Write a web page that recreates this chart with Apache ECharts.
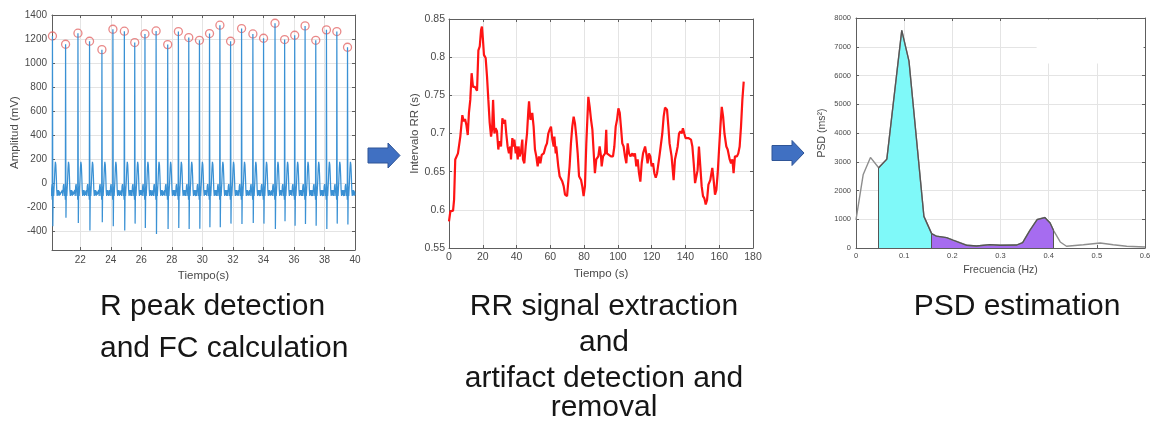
<!DOCTYPE html>
<html>
<head>
<meta charset="utf-8">
<script src="https://cdn.jsdelivr.net/npm/echarts@6/dist/echarts.min.js"></script>
<style>
  html, body { margin: 0; padding: 0; background: #fff; }
  #chart { width: 1155px; height: 431px; }
</style>
</head>
<body>
<div id="chart"></div>
<script>
// ---------- ECG: R peaks (s, mV) and S-wave depths ----------
const rPeakTimes = [20.18, 21.04, 21.85, 22.61, 23.42, 24.14, 24.89, 25.57, 26.24, 26.97,
                    27.73, 28.43, 29.11, 29.81, 30.47, 31.15, 31.85, 32.57, 33.31, 34.01,
                    34.76, 35.39, 36.05, 36.73, 37.43, 38.13, 38.81, 39.51];
const rPeakAmps = [1225, 1156, 1248, 1181, 1111, 1281, 1265, 1170, 1242, 1267,
                   1153, 1262, 1212, 1189, 1245, 1315, 1181, 1287, 1242, 1206,
                   1331, 1195, 1231, 1309, 1189, 1276, 1262, 1131];
const sWaveAmps = [-362, -292, -334, -398, -329, -362, -398, -340, -376, -426,
                   -384, -376, -384, -382, -370, -370, -340, -343, -334, -340,
                   -384, -320, -357, -343, -357, -384, -340, -348];
// beat shape around each R peak (offset in s, amplitude in mV)
const beatPreOffsets = [-0.24, -0.21, -0.18, -0.15, -0.12, -0.09, -0.06, -0.035, -0.015];
const beatPreValues  = [-100, -60, -110, -30, -10, -60, -110, -70, -140];
const sWaveOffset = 0.025;
const beatPostOffsets = [0.05, 0.08, 0.10, 0.13, 0.16, 0.19, 0.22, 0.25, 0.28, 0.31, 0.34, 0.37, 0.40, 0.43, 0.46, 0.49];
const beatPostValues  = [-30, -110, -60, 20, 120, 175, 150, 60, -60, -110, -60, -100, -60, -110, -70, -100];
const ecgEnd = 40.2;

// ---------- RR interval series ----------
const rrTimes = [0, 0.8, 2.4, 3.0, 3.7, 5.3, 6.7, 7.5, 7.9, 8.7,
  9.5, 10.3, 11.1, 11.8, 12.6, 13.4, 14.2, 15.4, 16.6, 17.4,
  18.2, 19.0, 19.5, 20.1, 20.7, 21.7, 22.5, 23.3, 24.1, 24.9,
  25.5, 26.1, 26.9, 27.6, 28.4, 29.2, 29.8, 30.8, 31.6, 32.4,
  33.2, 33.9, 34.7, 35.5, 36.3, 36.7, 37.5, 38.3, 38.7, 39.5,
  39.9, 40.7, 41.2, 41.8, 42.6, 43.4, 43.8, 44.6, 45.4, 46.2,
  47.0, 47.4, 48.2, 48.9, 49.3, 50.1, 50.9, 51.7, 52.5, 53.3,
  54.1, 54.9, 56.1, 57.2, 58.0, 58.8, 59.6, 60.4, 61.2, 62.0,
  62.4, 63.2, 63.5, 64.7, 65.5, 67.1, 67.9, 68.7, 69.9, 70.7,
  71.4, 72.2, 73.0, 73.8, 74.6, 75.4, 76.2, 77.0, 78.2, 78.9,
  79.7, 80.5, 81.3, 82.5, 83.3, 84.1, 84.9, 85.7, 86.4, 87.2,
  88.4, 89.2, 90.0, 90.4, 91.2, 92.4, 93.1, 93.5, 94.3, 95.9,
  97.1, 97.9, 98.7, 99.5, 100.3, 101.1, 101.8, 102.6, 103.4, 104.2,
  105.0, 105.8, 106.6, 107.4, 108.6, 109.3, 110.1, 110.9, 111.7, 112.5,
  113.3, 114.1, 114.9, 116.1, 116.8, 117.6, 118.4, 119.2, 120.0, 120.8,
  121.6, 122.4, 123.2, 123.9, 124.7, 125.5, 126.3, 127.1, 127.9, 129.1,
  129.9, 130.6, 131.8, 133.0, 133.8, 134.6, 135.4, 136.2, 137.0, 137.8,
  138.5, 139.3, 140.1, 140.9, 141.7, 142.5, 143.3, 144.1, 144.9, 145.7,
  146.5, 147.2, 148.0, 148.8, 149.6, 150.4, 151.2, 152.0, 152.8, 153.6,
  154.7, 155.9, 156.7, 157.5, 158.3, 159.1, 159.9, 160.7, 161.5, 162.3,
  163.1, 164.2, 165.0, 166.2, 167.0, 167.8, 168.5, 169.3, 170.5, 171.3,
  172.1, 172.9, 173.7, 174.5];
const rrValues = [0.585, 0.598, 0.599, 0.613, 0.666, 0.674, 0.696, 0.698, 0.724, 0.716,
  0.719, 0.711, 0.698, 0.727, 0.744, 0.779, 0.761, 0.761, 0.756, 0.809,
  0.814, 0.836, 0.840, 0.823, 0.803, 0.799, 0.775, 0.744, 0.714, 0.696,
  0.705, 0.744, 0.700, 0.707, 0.703, 0.679, 0.690, 0.683, 0.720, 0.713,
  0.718, 0.700, 0.683, 0.674, 0.683, 0.666, 0.694, 0.683, 0.692, 0.674,
  0.683, 0.666, 0.683, 0.670, 0.676, 0.692, 0.666, 0.661, 0.683, 0.700,
  0.731, 0.742, 0.718, 0.722, 0.727, 0.709, 0.679, 0.670, 0.657, 0.670,
  0.661, 0.672, 0.674, 0.683, 0.687, 0.700, 0.705, 0.709, 0.692, 0.683,
  0.696, 0.674, 0.683, 0.657, 0.644, 0.637, 0.631, 0.620, 0.618, 0.618,
  0.657, 0.687, 0.709, 0.722, 0.713, 0.696, 0.674, 0.644, 0.639, 0.631,
  0.618, 0.631, 0.687, 0.748, 0.735, 0.718, 0.705, 0.674, 0.648, 0.666,
  0.670, 0.683, 0.670, 0.657, 0.670, 0.674, 0.705, 0.674, 0.674, 0.670,
  0.670, 0.683, 0.709, 0.718, 0.733, 0.727, 0.709, 0.687, 0.683, 0.670,
  0.661, 0.687, 0.674, 0.670, 0.674, 0.670, 0.674, 0.657, 0.666, 0.648,
  0.637, 0.661, 0.674, 0.683, 0.674, 0.661, 0.674, 0.670, 0.657, 0.661,
  0.648, 0.642, 0.648, 0.648, 0.672, 0.674, 0.700, 0.722, 0.734, 0.731,
  0.709, 0.687, 0.670, 0.639, 0.666, 0.674, 0.683, 0.700, 0.703, 0.700,
  0.707, 0.700, 0.694, 0.696, 0.694, 0.696, 0.692, 0.683, 0.661, 0.635,
  0.635, 0.652, 0.683, 0.657, 0.631, 0.618, 0.615, 0.607, 0.613, 0.633,
  0.639, 0.655, 0.639, 0.620, 0.626, 0.648, 0.679, 0.709, 0.735, 0.722,
  0.700, 0.683, 0.679, 0.666, 0.661, 0.666, 0.648, 0.670, 0.670, 0.674,
  0.683, 0.709, 0.744, 0.768];

// ---------- Power spectral density ----------
const psdFreq   = [0, 0.015, 0.030, 0.047, 0.064, 0.095, 0.110, 0.141, 0.157, 0.167,
                   0.188, 0.202, 0.230, 0.250, 0.278, 0.299, 0.334, 0.346, 0.361, 0.376,
                   0.392, 0.403, 0.410, 0.424, 0.437, 0.472, 0.507, 0.534, 0.562, 0.600];
const psdValues = [980, 2560, 3150, 2790, 3090, 7570, 6500, 1100, 500, 410,
                   360, 270, 95, 70, 115, 95, 105, 185, 615, 990,
                   1060, 870, 615, 210, 60, 115, 175, 115, 60, 35];
const lfBand = [0.047, 0.157];
const hfBand = [0.157, 0.410];

// ---------- Captions ----------
const captionLeft   = ['R peak detection', 'and FC calculation'];
const captionMiddle = ['RR signal extraction', 'and', 'artifact detection and', 'removal'];
const captionRight  = ['PSD estimation'];

// ---------- build series data ----------
const ecgPoints = [];
rPeakTimes.forEach((tR, i) => {
  beatPreOffsets.forEach((o, k) => ecgPoints.push([tR + o, beatPreValues[k]]));
  ecgPoints.push([tR, rPeakAmps[i]]);
  ecgPoints.push([tR + sWaveOffset, sWaveAmps[i]]);
  const limit = i + 1 < rPeakTimes.length ? rPeakTimes[i + 1] + beatPreOffsets[0] : ecgEnd;
  beatPostOffsets.forEach((o, k) => {
    if (tR + o < limit) ecgPoints.push([tR + o, beatPostValues[k]]);
  });
});
const peakPoints = rPeakTimes.map((t, i) => [t, rPeakAmps[i]]);
const rrPoints = rrTimes.map((t, i) => [t, rrValues[i]]);
const psdPoints = psdFreq.map((f, i) => [f, psdValues[i]]);
const bandPoints = band => psdPoints.filter(p => p[0] >= band[0] - 1e-9 && p[0] <= band[1] + 1e-9);
const edgeLine = f => {
  const p = psdPoints.find(q => Math.abs(q[0] - f) < 1e-9);
  return [{ coord: [p[0], 0] }, { coord: [p[0], p[1]] }];
};

// ---------- styling helpers ----------
const FONT = '"Liberation Sans", Arial, sans-serif';
const FRAME = '#5e5e5e';
const GRIDC = '#e4e4e4';
const TXT = '#4a4a4a';
const plain = v => String(v);

function xAxes(gi, range, opt) {
  const base = {
    type: 'value', gridIndex: gi, min: range[0], max: range[1],
    axisLine: { show: true, onZero: false, lineStyle: { color: FRAME, width: 1 } },
    axisTick: { show: true, inside: true, length: 3, lineStyle: { color: FRAME } }
  };
  if (opt.interval !== undefined) base.interval = opt.interval; else base.splitNumber = opt.splitNumber;
  return [
    Object.assign({}, base, {
      position: 'bottom',
      name: opt.name, nameLocation: 'middle', nameGap: opt.nameGap,
      nameTextStyle: { fontFamily: FONT, fontSize: opt.nameSize, color: TXT },
      axisLabel: { fontFamily: FONT, fontSize: opt.labelSize, color: TXT, margin: opt.margin,
                   showMinLabel: opt.showMinLabel !== false, formatter: plain },
      splitLine: { show: true, lineStyle: { color: GRIDC, width: 1 } }
    }),
    Object.assign({}, base, {
      position: 'top', axisLabel: { show: false }, splitLine: { show: false }
    })
  ];
}
function yAxes(gi, range, opt) {
  const base = {
    type: 'value', gridIndex: gi, min: range[0], max: range[1],
    axisLine: { show: true, onZero: false, lineStyle: { color: FRAME, width: 1 } },
    axisTick: { show: true, inside: true, length: 3, lineStyle: { color: FRAME } }
  };
  if (opt.interval !== undefined) base.interval = opt.interval; else base.splitNumber = opt.splitNumber;
  return [
    Object.assign({}, base, {
      position: 'left',
      name: opt.name, nameLocation: 'middle', nameGap: opt.nameGap,
      nameTextStyle: { fontFamily: FONT, fontSize: opt.nameSize, color: TXT },
      axisLabel: { fontFamily: FONT, fontSize: opt.labelSize, color: TXT, margin: opt.margin,
                   showMinLabel: opt.showMinLabel !== false, formatter: plain },
      splitLine: { show: true, lineStyle: { color: GRIDC, width: 1 } }
    }),
    Object.assign({}, base, {
      position: 'right', axisLabel: { show: false }, splitLine: { show: false }
    })
  ];
}

function captionText(x, y, text, align) {
  return {
    type: 'text', x: x, y: y, silent: true,
    style: { text: text, font: '30px ' + FONT, fill: '#161616',
             textAlign: align, textVerticalAlign: 'middle' }
  };
}
function arrow(x0, cy) {
  const pts = [[x0, cy - 7.5], [x0 + 20, cy - 7.5], [x0 + 20, cy - 12.5], [x0 + 32, cy],
               [x0 + 20, cy + 12.5], [x0 + 20, cy + 7.5], [x0, cy + 7.5]];
  return { type: 'polygon', silent: true, shape: { points: pts },
           style: { fill: '#4070c2', stroke: '#2f5597', lineWidth: 1 } };
}

const graphics = [];
captionLeft.forEach((t, i) => graphics.push(captionText(100, [307, 349][i], t, 'left')));
captionMiddle.forEach((t, i) => graphics.push(captionText(604, [307, 343, 379, 408][i], t, 'center')));
captionRight.forEach((t) => graphics.push(captionText(1017, 307, t, 'center')));
graphics.push(arrow(368, 155.5));
graphics.push(arrow(772, 153));

const option = {
  animation: false,
  backgroundColor: '#ffffff',
  grid: [
    { left: 52, top: 15, width: 303, height: 235 },
    { left: 449, top: 19, width: 304, height: 229 },
    { left: 856, top: 18, width: 289, height: 230 }
  ],
  xAxis: [].concat(
    xAxes(0, [20.15, 40], { splitNumber: 10, name: 'Tiempo(s)', nameGap: 15, nameSize: 11.5,
                            labelSize: 10, margin: 5, showMinLabel: false }),
    xAxes(1, [0, 180], { interval: 20, name: 'Tiempo (s)', nameGap: 17, nameSize: 11.5,
                         labelSize: 10.5, margin: 4 }),
    xAxes(2, [0, 0.6], { interval: 0.1, name: 'Frecuencia (Hz)', nameGap: 15, nameSize: 10.5,
                         labelSize: 7.5, margin: 4 })
  ),
  yAxis: [].concat(
    yAxes(0, [-560, 1400], { splitNumber: 10, name: 'Amplitud (mV)', nameGap: 31, nameSize: 11.5,
                             labelSize: 10, margin: 5, showMinLabel: false }),
    yAxes(1, [0.55, 0.85], { interval: 0.05, name: 'Intervalo RR (s)', nameGap: 28, nameSize: 11.5,
                             labelSize: 10.5, margin: 4 }),
    yAxes(2, [0, 8000], { interval: 1000, name: 'PSD (ms²)', nameGap: 28, nameSize: 10.5,
                          labelSize: 7.5, margin: 5 })
  ),
  series: [
    {
      name: 'ECG', type: 'line', xAxisIndex: 0, yAxisIndex: 0, data: ecgPoints,
      showSymbol: false, symbol: 'none', clip: true,
      lineStyle: { color: '#3a91d4', width: 1.25 }
    },
    {
      name: 'R peaks', type: 'scatter', xAxisIndex: 0, yAxisIndex: 0, data: peakPoints,
      symbol: 'circle', symbolSize: 8, clip: false,
      itemStyle: { color: 'rgba(255,255,255,0)', borderColor: '#e36a6a', borderWidth: 1.3 }
    },
    {
      name: 'RR', type: 'line', xAxisIndex: 2, yAxisIndex: 2, data: rrPoints,
      showSymbol: false, symbol: 'none',
      lineStyle: { color: '#ff1414', width: 2.2 }
    },
    {
      name: 'PSD', type: 'line', xAxisIndex: 4, yAxisIndex: 4, data: psdPoints,
      showSymbol: false, symbol: 'none',
      lineStyle: { color: '#8e8e8e', width: 1.4 },
      markArea: {
        silent: true,
        itemStyle: { color: '#ffffff' },
        data: [[{ coord: [0.375, 6420] }, { coord: [0.597, 7960] }]]
      }
    },
    {
      name: 'LF', type: 'line', xAxisIndex: 4, yAxisIndex: 4, data: bandPoints(lfBand),
      showSymbol: false, symbol: 'none',
      lineStyle: { color: '#555555', width: 1.3 },
      areaStyle: { color: '#7ff9f9', opacity: 1, origin: 'start' },
      markLine: { silent: true, symbol: 'none', label: { show: false },
                  lineStyle: { color: '#555555', width: 1, type: 'solid' },
                  data: [edgeLine(lfBand[0])] }
    },
    {
      name: 'HF', type: 'line', xAxisIndex: 4, yAxisIndex: 4, data: bandPoints(hfBand),
      showSymbol: false, symbol: 'none',
      lineStyle: { color: '#555555', width: 1.3 },
      areaStyle: { color: '#a66cf0', opacity: 1, origin: 'start' },
      markLine: { silent: true, symbol: 'none', label: { show: false },
                  lineStyle: { color: '#555555', width: 1, type: 'solid' },
                  data: [edgeLine(hfBand[0]), edgeLine(hfBand[1])] }
    }
  ],
  graphic: graphics
};

const chart = echarts.init(document.getElementById('chart'), null, { renderer: 'canvas' });
chart.setOption(option);
</script>
</body>
</html>
